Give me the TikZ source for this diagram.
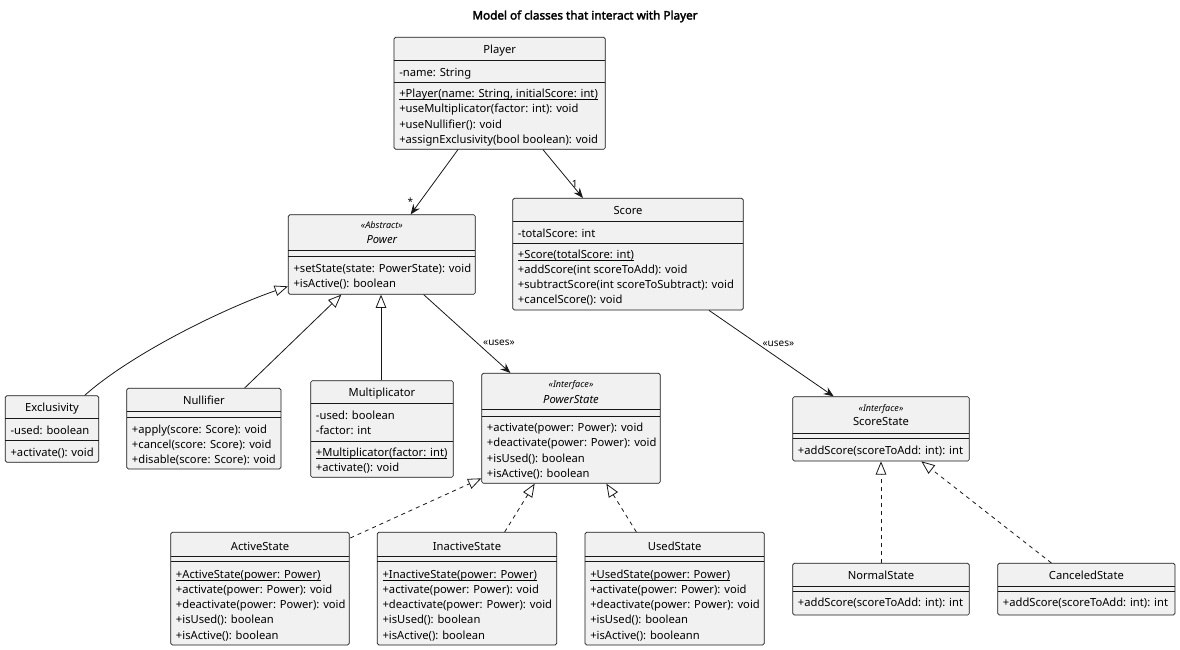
\documentclass[tikz,border=0pt]{standalone}
\usepackage{fontspec}
\setmainfont{Noto Sans}[AutoFakeBold=2.5]
\usetikzlibrary{arrows.meta,calc,fit}
\definecolor{umlfill}{HTML}{F1F1F1}
\definecolor{umlline}{HTML}{181818}
\newcommand{\memberfont}{\fontsize{8.4}{11.4}\selectfont}
\newcommand{\stereofont}{\fontsize{6.8}{8}\selectfont\itshape}
\newcommand{\labelfont}{\fontsize{7.5}{9}\selectfont}
\newcommand{\titlefont}{\fontsize{8.8}{10}\selectfont\bfseries}
% constructors are underlined just under the baseline
\newcommand{\ctor}[1]{\setbox0\hbox{#1}\rlap{\rule[-1.4pt]{\wd0}{0.45pt}}\box0}
\begin{document}
\begin{tikzpicture}[x=0.75pt,y=-0.75pt,
classbox/.style={
% The shape:
rectangle,
draw=umlline,
fill=umlfill,
line width=0.5pt,
rounded corners=1.2pt,
inner sep=0pt
},
divider/.style={draw=umlline,line width=0.5pt},
cname/.style={font=\memberfont,anchor=base,inner sep=0pt},
stereo/.style={font=\stereofont,anchor=base,inner sep=0pt},
% multi-line members sit on the baseline of their last line:
members/.style={font=\memberfont,align=left,anchor=base west,inner sep=0pt},
assoc/.style={draw=umlline,line width=0.6pt,-{Stealth[length=7.5pt,width=6pt,inset=2.5pt]}},
inherit/.style={draw=umlline,line width=0.6pt,-{Triangle[open,length=10pt,width=8pt,fill=white]}},
realize/.style={inherit,dash pattern=on 3pt off 3pt},
lbl/.style={font=\labelfont,inner sep=1pt}
]
\useasboundingbox (0,0) rectangle (1180,649);
\fill[white] (0,0) rectangle (1180,649);
\node[font=\titlefont,anchor=base,inner sep=0pt] (title) at (585,19.5) {Model of classes that interact with Player};

% Player
\node[classbox,fit={(394,37.3) (605.3,149.3)}] (player) {};
\draw[divider] (394,60.7) -- (605.3,60.7) (394,82.3) -- (605.3,82.3);
\node[cname] (playername) at (499.7,54) {Player};
\node[members] (playerattr) at (399,76.3) {-name: String};
\node[members] (playerops) at (399,143.3) {\ctor{+Player(name: String, initialScore: int)}\\+useMultiplicator(factor: int): void\\+useNullifier(): void\\+assignExclusivity(bool boolean): void};

% Score
\node[classbox,fit={(512.7,198.3) (743.3,310)}] (score) {};
\draw[divider] (512.7,221.7) -- (743.3,221.7) (512.7,243.3) -- (743.3,243.3);
\node[cname] (scorename) at (628,214.7) {Score};
\node[members] (scoreattr) at (517.7,237) {-totalScore: int};
\node[members] (scoreops) at (517.7,303.9) {\ctor{+Score(totalScore: int)}\\+addScore(int scoreToAdd): void\\+subtractScore(int scoreToSubtract): void\\+cancelScore(): void};

% Power
\node[classbox,fit={(288.3,214.7) (475.3,294.3)}] (power) {};
\draw[divider] (288.3,250) -- (475.3,250) (288.3,256.7) -- (475.3,256.7);
\node[stereo] (powerstereo) at (381.8,228.7) {«Abstract»};
\node[cname] (powername) at (381.8,243.3) {\itshape Power};
\node[members] (powerops) at (293.3,287.5) {+setState(state: PowerState): void\\+isActive(): boolean};

% Exclusivity
\node[classbox,fit={(5.3,395.7) (98.7,462.3)}] (exclusivity) {};
\draw[divider] (5.3,418.3) -- (98.7,418.3) (5.3,440.7) -- (98.7,440.7);
\node[cname] (exclusivityname) at (52,411.7) {Exclusivity};
\node[members] (exclusivityattr) at (10.3,434) {-used: boolean};
\node[members] (exclusivityops) at (10.3,456) {+activate(): void};

% Nullifier
\node[classbox,fit={(126.7,388.3) (281,469)}] (nullifier) {};
\draw[divider] (126.7,411.3) -- (281,411.3) (126.7,417.3) -- (281,417.3);
\node[cname] (nullifiername) at (203.9,404) {Nullifier};
\node[members] (nullifierops) at (131.7,463.4) {+apply(score: Score): void\\+cancel(score: Score): void\\+disable(score: Score): void};

% Multiplicator
\node[classbox,fit={(310.7,380.7) (453.3,477.3)}] (multiplicator) {};
\draw[divider] (310.7,403.3) -- (453.3,403.3) (310.7,441) -- (453.3,441);
\node[cname] (multiplicatorname) at (382,396.3) {Multiplicator};
\node[members] (multiplicatorattr) at (315.7,434.2) {-used: boolean\\-factor: int};
\node[members] (multiplicatorops) at (315.7,471.5) {\ctor{+Multiplicator(factor: int)}\\+activate(): void};

% PowerState
\node[classbox,fit={(481.7,373.3) (660.3,483.3)}] (powerstate) {};
\draw[divider] (481.7,409.3) -- (660.3,409.3) (481.7,416.7) -- (660.3,416.7);
\node[stereo] (powerstatestereo) at (571,387.7) {«Interface»};
\node[cname] (powerstatename) at (571,403) {\itshape PowerState};
\node[members] (powerstateops) at (486.7,477.3) {+activate(power: Power): void\\+deactivate(power: Power): void\\+isUsed(): boolean\\+isActive(): boolean};

% ScoreState
\node[classbox,fit={(792.7,396.7) (969.3,461)}] (scorestate) {};
\draw[divider] (792.7,433.3) -- (969.3,433.3) (792.7,438.3) -- (969.3,438.3);
\node[stereo] (scorestatestereo) at (881,411.3) {«Interface»};
\node[cname] (scorestatename) at (881,425.7) {ScoreState};
\node[members] (scorestateops) at (797.7,454.7) {+addScore(scoreToAdd: int): int};

% ActiveState
\node[classbox,fit={(170.7,532.3) (349.3,645)}] (active) {};
\draw[divider] (170.7,556.3) -- (349.3,556.3) (170.7,561.3) -- (349.3,561.3);
\node[cname] (activename) at (260,550) {ActiveState};
\node[members] (activeops) at (175.7,639.1) {\ctor{+ActiveState(power: Power)}\\+activate(power: Power): void\\+deactivate(power: Power): void\\+isUsed(): boolean\\+isActive(): boolean};

% InactiveState
\node[classbox,fit={(377.3,532.3) (556.7,645)}] (inactive) {};
\draw[divider] (377.3,556.3) -- (556.7,556.3) (377.3,561.3) -- (556.7,561.3);
\node[cname] (inactivename) at (467,550) {InactiveState};
\node[members] (inactiveops) at (382.3,639.1) {\ctor{+InactiveState(power: Power)}\\+activate(power: Power): void\\+deactivate(power: Power): void\\+isUsed(): boolean\\+isActive(): boolean};

% UsedState
\node[classbox,fit={(585,532.3) (764.3,645)}] (used) {};
\draw[divider] (585,556.3) -- (764.3,556.3) (585,561.3) -- (764.3,561.3);
\node[cname] (usedname) at (674.7,550) {UsedState};
\node[members] (usedops) at (590,639.1) {\ctor{+UsedState(power: Power)}\\+activate(power: Power): void\\+deactivate(power: Power): void\\+isUsed(): boolean\\+isActive(): booleann};

% NormalState
\node[classbox,fit={(792.7,563.3) (969.3,615)}] (normal) {};
\draw[divider] (792.7,586.7) -- (969.3,586.7) (792.7,591.7) -- (969.3,591.7);
\node[cname] (normalname) at (881,579) {NormalState};
\node[members] (normalops) at (797.7,606.7) {+addScore(scoreToAdd: int): int};

% CanceledState
\node[classbox,fit={(997.7,563.3) (1175,615)}] (canceled) {};
\draw[divider] (997.7,586.7) -- (1175,586.7) (997.7,591.7) -- (1175,591.7);
\node[cname] (canceledname) at (1086.4,579) {CanceledState};
\node[members] (canceledops) at (1002.7,606.7) {+addScore(scoreToAdd: int): int};

% associations
\draw[assoc] ($(player.south west)+(64.3,0)$) -- ($(power.north west)+(122.7,0)$) node[lbl,pos=0.8,left=4pt] {*};
\draw[assoc] ($(player.south west)+(149.3,0)$) -- ($(score.north west)+(70.6,0)$) node[lbl,pos=0.71,right=-1pt] {1};
\draw[assoc] ($(power.south west)+(135.7,0)$) -- ($(powerstate.north west)+(29,0)$) node[lbl,pos=0.62,right=3pt] {«uses»};
\draw[assoc] ($(score.south west)+(196.6,0)$) -- ($(scorestate.north west)+(41.3,0)$) node[lbl,pos=0.384,right=3pt] {«uses»};
% inheritance
\draw[inherit] ($(exclusivity.north west)+(79.7,0)$) .. controls (130,355) and (220,310) .. ($(power.south west)+(0,-8.3)$);
\draw[inherit] ($(nullifier.north west)+(118.3,0)$) -- ($(power.south west)+(53.4,0)$);
\draw[inherit] ($(multiplicator.north)+(-1,0)$) -- ($(multiplicator.north |- power.south)+(-1,0)$);
% realization
\draw[realize] ($(active.north east)+(0.7,6)$) -- ($(powerstate.south west)+(0,-5.3)$);
\draw[realize] ($(inactive.north west)+(127.7,0)$) -- ($(powerstate.south west)+(53.3,0)$);
\draw[realize] ($(used.north west)+(51.7,0)$) -- ($(powerstate.south west)+(125,0)$);
\draw[realize] (normal.north) -- (normal.north |- scorestate.south);
\draw[realize] ($(canceled.north west)+(54,0)$) -- ($(scorestate.south west)+(129,0)$);
\end{tikzpicture}
\end{document}
